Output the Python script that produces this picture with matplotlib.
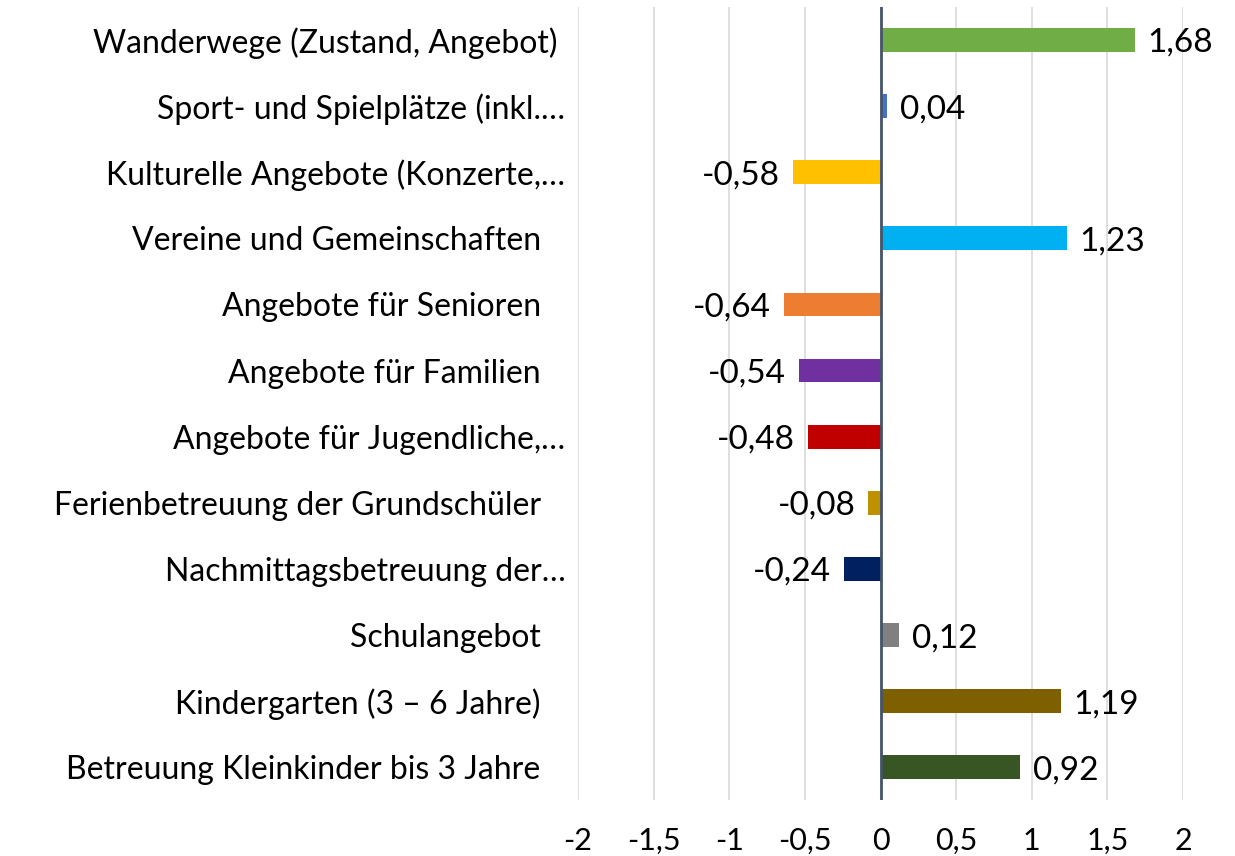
import matplotlib.pyplot as plt
from matplotlib.ticker import FuncFormatter

# Kategorien (von oben nach unten)
categories = [
    "Wanderwege (Zustand, Angebot) ",
    "Sport- und Spielplätze (inkl.…",
    "Kulturelle Angebote (Konzerte,…",
    "Vereine und Gemeinschaften   ",
    "Angebote für Senioren   ",
    "Angebote für Familien   ",
    "Angebote für Jugendliche,…",
    "Ferienbetreuung der Grundschüler   ",
    "Nachmittagsbetreuung der…",
    "Schulangebot   ",
    "Kindergarten (3 – 6 Jahre)   ",
    "Betreuung Kleinkinder bis 3 Jahre   ",
]
values = [1.68, 0.04, -0.58, 1.23, -0.64, -0.54, -0.48, -0.08, -0.24, 0.12, 1.19, 0.92]
colors = ["#70AD47", "#4472C4", "#FFC000", "#00B0F0", "#ED7D31", "#7030A0",
          "#C00000", "#BF9000", "#002060", "#808080", "#7F6000", "#375623"]
xticks = [-2, -1.5, -1, -0.5, 0, 0.5, 1, 1.5, 2]

plt.rcParams["font.family"] = ["Lato", "DejaVu Sans"]


def de_num(v, pos=None):
    s = f"{v:g}"
    return s.replace(".", ",")


fig = plt.figure(figsize=(12.35, 8.56), dpi=100)
ax = fig.add_axes([0.468, 0.065, 0.490, 0.927])

ypos = list(range(len(categories)))
ax.barh(ypos, values, height=0.36, color=colors, zorder=3)

# Datenbeschriftungen: positiv rechts, negativ links vom Balken
for y, v in zip(ypos, values):
    txt = f"{v:.2f}".replace(".", ",")
    if v >= 0:
        ax.annotate(txt, (v, y), xytext=(13, -3), textcoords="offset pixels",
                    ha="left", va="center", fontsize=24)
    else:
        ax.annotate(txt, (v, y), xytext=(-13, -3), textcoords="offset pixels",
                    ha="right", va="center", fontsize=24)

ax.set_xlim(-2, 2)
ax.set_ylim(len(categories) - 0.5, -0.5)
ax.set_xticks(xticks)
ax.xaxis.set_major_formatter(FuncFormatter(de_num))
ax.set_yticks(ypos)
ax.set_yticklabels(categories, fontsize=23)

ax.grid(axis="x", color="#D9D9D9", linewidth=1.2, zorder=0)
ax.axvline(0, color="#44546A", linewidth=2, zorder=4)
for s in ax.spines.values():
    s.set_visible(False)
ax.tick_params(axis="both", length=0)
ax.tick_params(axis="x", pad=19, labelsize=22)
ax.tick_params(axis="y", pad=9)

fig.savefig("out.png", dpi=100)
